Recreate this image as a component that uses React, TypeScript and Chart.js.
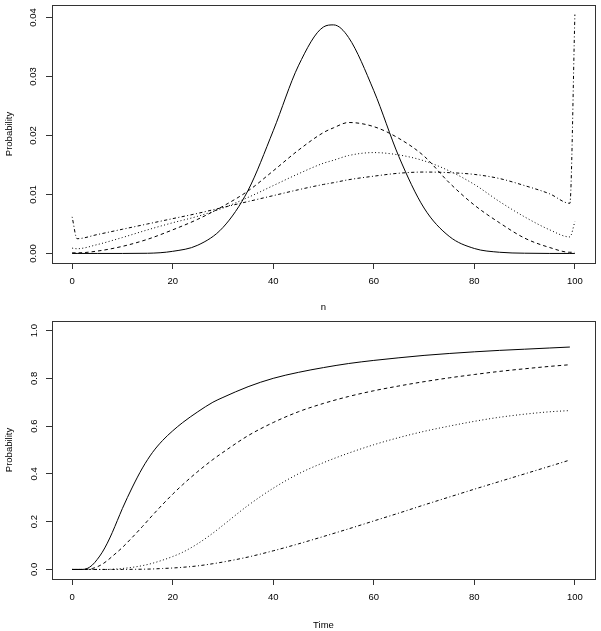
import React, { useEffect, useRef } from "react";
import { Chart, registerables } from "chart.js";

Chart.register(...registerables);

// ---------- Top panel data (n = 0..100) ----------
const topN = [0, 1, 5, 10, 15, 20, 25, 30, 35, 40, 45, 50, 52, 55, 60, 65, 70, 75, 80, 85, 90, 95, 99, 100];
const topSolid = [0, 0, 0, 0, 0.00003, 0.00036, 0.0014, 0.0044, 0.0107, 0.0208, 0.0318, 0.0384, 0.03875, 0.0366, 0.0276, 0.0164, 0.0077, 0.0029, 0.00084, 0.0002, 0.00004, 0, 0, 0];
const topDashed = [0.0001, 0.0001, 0.0004, 0.0012, 0.0024, 0.004, 0.0058, 0.008, 0.0106, 0.014, 0.0175, 0.0205, 0.0213, 0.0222, 0.0215, 0.0195, 0.0165, 0.012, 0.0082, 0.0052, 0.0026, 0.001, 0.0002, 0.0002];
const topDotted = [0.0009, 0.0008, 0.0015, 0.0027, 0.004, 0.0052, 0.0063, 0.0077, 0.0095, 0.0115, 0.0135, 0.0153, 0.0158, 0.0166, 0.0171, 0.0167, 0.0157, 0.014, 0.0117, 0.0088, 0.0062, 0.004, 0.0028, 0.0054];
const topDotDash = [0.0062, 0.0025, 0.0032, 0.0041, 0.005, 0.0059, 0.0068, 0.0078, 0.0088, 0.0098, 0.0108, 0.0117, 0.012, 0.0125, 0.0131, 0.0136, 0.0138, 0.0137, 0.0134, 0.0127, 0.0115, 0.0101, 0.0085, 0.0405];
const topXTicks = [0, 20, 40, 60, 80, 100];
const topYTicks = [0, 0.01, 0.02, 0.03, 0.04];

// ---------- Bottom panel data (Time) ----------
const timeT = [0, 2, 3, 4, 5, 6, 7, 8, 9, 10, 12, 14, 16, 18, 20, 22, 25, 28, 30, 35, 40, 45, 50, 55, 60, 65, 70, 75, 80, 85, 90, 95, 99];
const timeSolid = [0, 0, 0.004, 0.018, 0.042, 0.072, 0.11, 0.155, 0.205, 0.255, 0.345, 0.425, 0.49, 0.54, 0.58, 0.615, 0.66, 0.7, 0.72, 0.765, 0.8, 0.825, 0.845, 0.862, 0.875, 0.886, 0.896, 0.904, 0.911, 0.917, 0.922, 0.927, 0.931];
const timeDashed = [0, 0, 0.001, 0.004, 0.011, 0.022, 0.037, 0.055, 0.073, 0.092, 0.135, 0.18, 0.227, 0.272, 0.315, 0.355, 0.41, 0.46, 0.49, 0.56, 0.615, 0.66, 0.695, 0.724, 0.748, 0.768, 0.786, 0.802, 0.816, 0.829, 0.84, 0.85, 0.857];
const timeDotted = [0, 0, 0, 0, 0, 0, 0, 0.001, 0.002, 0.004, 0.009, 0.016, 0.026, 0.039, 0.054, 0.072, 0.108, 0.152, 0.185, 0.268, 0.34, 0.4, 0.447, 0.487, 0.522, 0.552, 0.578, 0.6, 0.62, 0.637, 0.65, 0.66, 0.665];
const timeDotDash = [0, 0, 0, 0, 0, 0, 0, 0, 0, 0, 0.0005, 0.001, 0.002, 0.004, 0.006, 0.009, 0.015, 0.024, 0.031, 0.052, 0.078, 0.107, 0.138, 0.17, 0.203, 0.236, 0.27, 0.303, 0.336, 0.368, 0.4, 0.432, 0.458];
const timeXTicks = [0, 20, 40, 60, 80, 100];
const timeYTicks = [0, 0.2, 0.4, 0.6, 0.8, 1.0];

const FONT = "'Liberation Sans', Arial, Helvetica, sans-serif";
const FS = 9.5;

const dashStyles = {
  solid: [] as number[],
  dashed: [3.5, 3],
  dotted: [1, 2.4],
  dotdash: [1, 2.4, 3.2, 2.4],
};

function pairs(xs: number[], ys: number[]) {
  return xs.map((x, i) => ({ x, y: ys[i] }));
}

function lineDs(xs: number[], ys: number[], dash: number[]) {
  return {
    data: pairs(xs, ys),
    borderColor: "#000",
    borderWidth: 1,
    borderDash: dash,
    pointRadius: 0,
    fill: false,
    cubicInterpolationMode: "monotone" as const,
  };
}

const boxPlugin = {
  id: "rbox",
  afterDraw(chart: any) {
    const { ctx, chartArea: a } = chart;
    ctx.save();
    ctx.strokeStyle = "#333";
    ctx.lineWidth = 1;
    ctx.setLineDash([]);
    ctx.strokeRect(
      Math.round(a.left) + 0.5,
      Math.round(a.top) + 0.5,
      Math.round(a.right) - Math.round(a.left),
      Math.round(a.bottom) - Math.round(a.top)
    );
    ctx.restore();
  },
};

function makeConfig(p: {
  datasets: any[];
  yMin: number;
  yMax: number;
  xTicks: number[];
  yTicks: number[];
  yDigits: number;
  xTitle: string;
  xTitleBottomPad: number;
  yLabelPad: number;
  top: number;
}) {
  const grid = {
    drawOnChartArea: false,
    drawTicks: true,
    tickLength: 6,
    color: "#333",
    lineWidth: 1,
  };
  return {
    type: "line" as const,
    data: { datasets: p.datasets },
    plugins: [boxPlugin],
    options: {
      animation: false as const,
      responsive: false,
      events: [],
      layout: { padding: { left: 0, top: p.top, right: 6, bottom: 0 } },
      plugins: { legend: { display: false }, tooltip: { enabled: false } },
      scales: {
        x: {
          type: "linear" as const,
          min: -4,
          max: 104,
          afterBuildTicks: (s: any) => {
            s.ticks = p.xTicks.map((v) => ({ value: v }));
          },
          afterFit: (s: any) => {
            s.height = 52;
            s.paddingLeft = 0;
            s.paddingRight = 0;
          },
          grid,
          border: { display: false },
          ticks: {
            color: "#000",
            padding: 7,
            maxRotation: 0,
            minRotation: 0,
            autoSkip: false,
            font: { family: FONT, size: FS },
            callback: (v: any) => String(v),
          },
          title: {
            display: true,
            text: p.xTitle,
            color: "#000",
            font: { family: FONT, size: FS },
            padding: { top: 0, bottom: p.xTitleBottomPad },
          },
        },
        y: {
          type: "linear" as const,
          min: p.yMin,
          max: p.yMax,
          afterBuildTicks: (s: any) => {
            s.ticks = p.yTicks.map((v) => ({ value: v }));
          },
          afterFit: (s: any) => {
            s.width = 52;
            s.paddingTop = 0;
            s.paddingBottom = 0;
          },
          grid,
          border: { display: false },
          ticks: {
            color: "#000",
            padding: p.yLabelPad,
            minRotation: 90,
            maxRotation: 90,
            crossAlign: "center" as const,
            autoSkip: false,
            font: { family: FONT, size: FS },
            callback: (v: any) => Number(v).toFixed(p.yDigits),
          },
          title: {
            display: true,
            text: "Probability",
            color: "#000",
            font: { family: FONT, size: FS },
            padding: { top: 4, bottom: 0 },
          },
        },
      },
    },
  };
}

function ChartCanvas({ config, height }: { config: any; height: number }) {
  const ref = useRef<HTMLCanvasElement | null>(null);
  useEffect(() => {
    if (!ref.current) return;
    const chart = new Chart(ref.current, config);
    return () => chart.destroy();
  }, []);
  return (
    <canvas
      ref={ref}
      width={601}
      height={height}
      style={{ display: "block", width: 601, height }}
    />
  );
}

export default function App() {
  const topConfig = makeConfig({
    datasets: [
      lineDs(topN, topSolid, dashStyles.solid),
      lineDs(topN, topDashed, dashStyles.dashed),
      lineDs(topN, topDotted, dashStyles.dotted),
      lineDs(topN, topDotDash, dashStyles.dotdash),
    ],
    yMin: -0.00162,
    yMax: 0.04212,
    xTicks: topXTicks,
    yTicks: topYTicks,
    yDigits: 2,
    xTitle: "n",
    xTitleBottomPad: 2,
    yLabelPad: 3,
    top: 5,
  });
  const bottomConfig = makeConfig({
    datasets: [
      lineDs(timeT, timeSolid, dashStyles.solid),
      lineDs(timeT, timeDashed, dashStyles.dashed),
      lineDs(timeT, timeDotted, dashStyles.dotted),
      lineDs(timeT, timeDotDash, dashStyles.dotdash),
    ],
    yMin: -0.04,
    yMax: 1.04,
    xTicks: timeXTicks,
    yTicks: timeYTicks,
    yDigits: 1,
    xTitle: "Time",
    xTitleBottomPad: 0,
    yLabelPad: 5,
    top: 6,
  });
  return (
    <div style={{ position: "absolute", left: 0, top: 0, width: 601, height: 631, background: "#fff" }}>
      <ChartCanvas config={topConfig} height={315} />
      <ChartCanvas config={bottomConfig} height={316} />
    </div>
  );
}
